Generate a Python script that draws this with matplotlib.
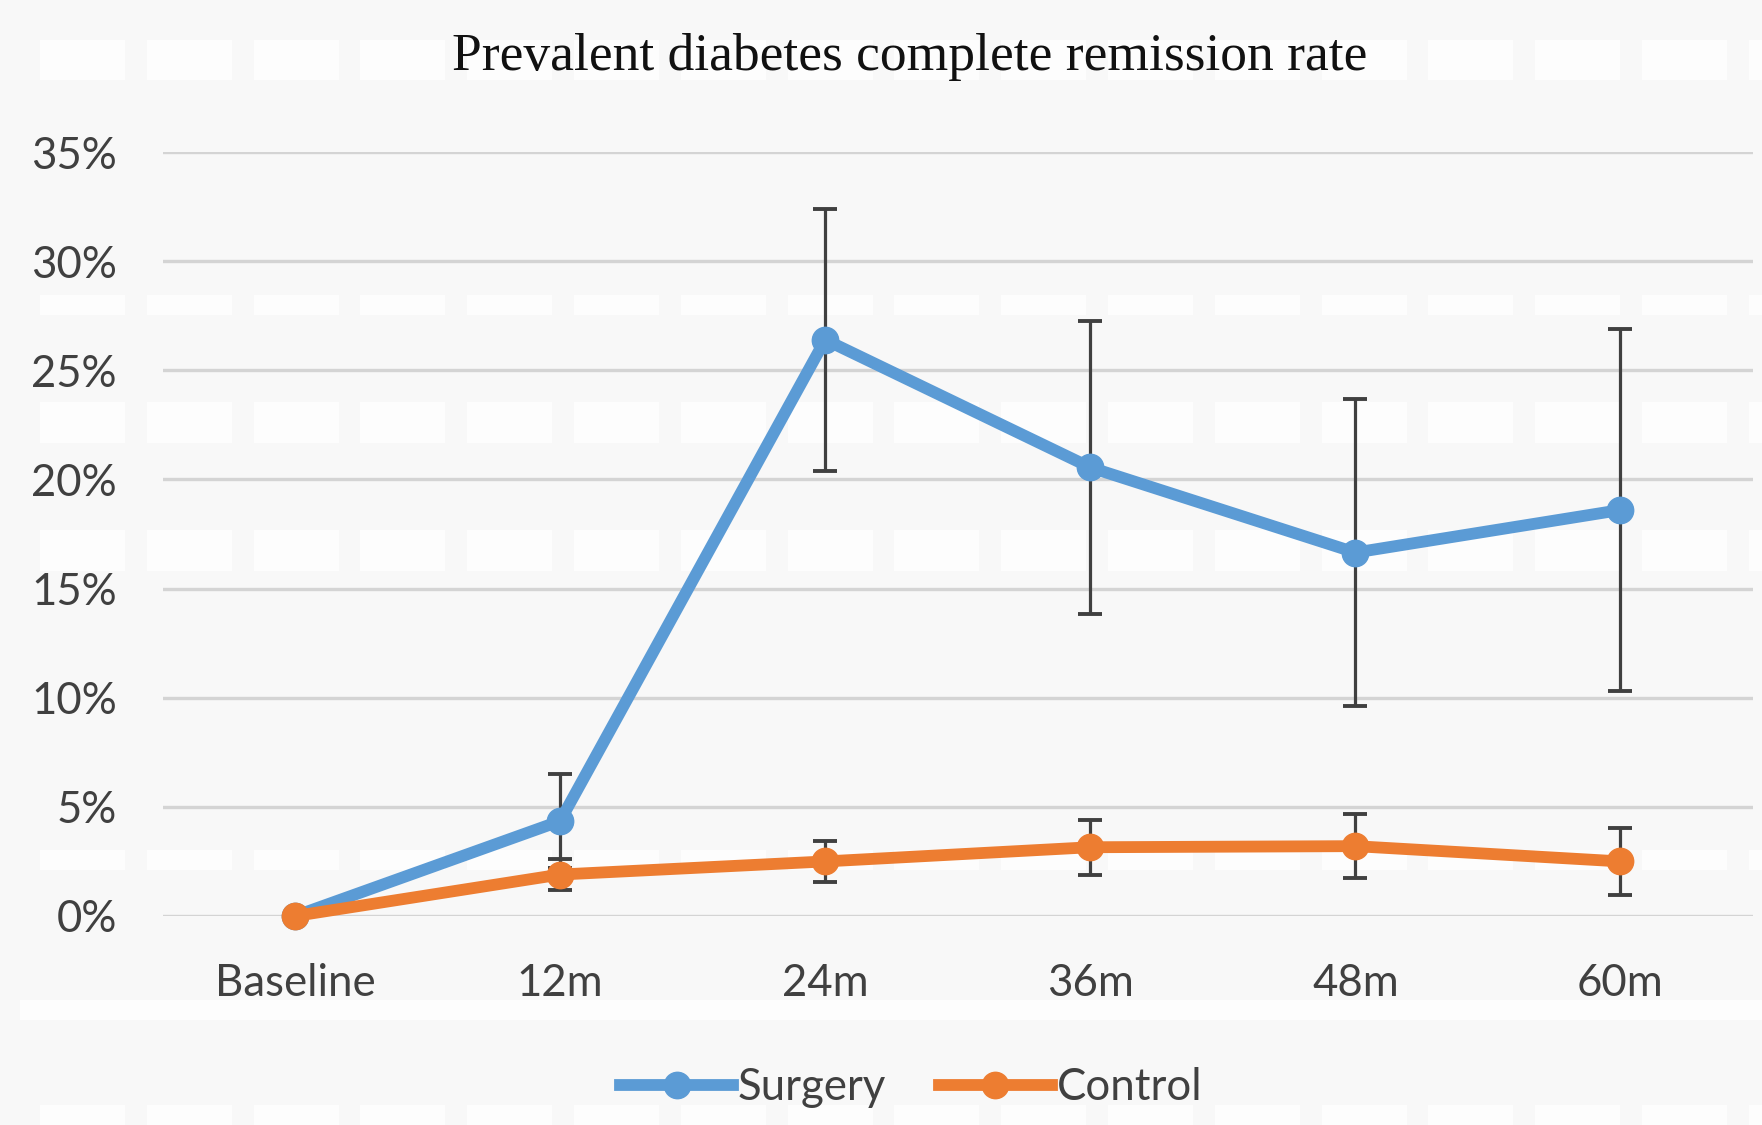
import numpy as np
import matplotlib
matplotlib.use("Agg")
import matplotlib.pyplot as plt
from matplotlib.patches import Rectangle
from matplotlib.ticker import FuncFormatter

# --- Data (remission rate, %) ---
timepoints = ["Baseline", "12m", "24m", "36m", "48m", "60m"]
surgery = [0, 4.35, 26.4, 20.55, 16.65, 18.6]
surgery_err = [0, 2.15, 6.0, 6.7, 7.05, 8.3]
control = [0, 1.9, 2.5, 3.15, 3.2, 2.5]
control_err = [0, 0.72, 0.95, 1.27, 1.45, 1.55]

blue = "#5B9BD5"
orange = "#ED7D31"
text_col = "#404040"

W, H = 1762, 1125
fig = plt.figure(figsize=(W / 100, H / 100), dpi=100, facecolor="#f8f8f8")

# faint block texture of the chart background (pixel rows from the top)
block_rows = [(40, 80), (295, 315), (402, 443), (530, 571), (850, 870), (1105, 1125)]
for y0, y1 in block_rows:
    for x0 in np.arange(40, W, 106.8):
        fig.patches.append(Rectangle((x0 / W, 1 - y1 / H), 85 / W, (y1 - y0) / H,
                                     transform=fig.transFigure, facecolor="#fdfdfd",
                                     edgecolor="none", zorder=0))
fig.patches.append(Rectangle((20 / W, 1 - 1020 / H), 1 - 20 / W, 20 / H,
                             transform=fig.transFigure, facecolor="#fdfdfd",
                             edgecolor="none", zorder=0))

ax = fig.add_axes([162.5 / W, (H - 916) / H, (1753 - 162.5) / W, (916 - 152) / H])
ax.set_facecolor("none")
ax.set_zorder(2)

x = np.arange(len(timepoints))

# error bars first so the markers sit on top
ax.errorbar(x[1:], surgery[1:], yerr=surgery_err[1:], fmt="none", ecolor=text_col,
            elinewidth=2.3, capsize=8.5, capthick=2.8, zorder=2)
ax.plot(x, surgery, color=blue, lw=8.5, marker="o", ms=19, label="Surgery",
        zorder=3, clip_on=False)
ax.errorbar(x[1:], control[1:], yerr=control_err[1:], fmt="none", ecolor=text_col,
            elinewidth=2.3, capsize=8.5, capthick=2.8, zorder=4)
ax.plot(x, control, color=orange, lw=8.5, marker="o", ms=19, label="Control",
        zorder=5, clip_on=False)

ax.set_xlim(-0.5, len(timepoints) - 0.5)
ax.set_ylim(0, 35)
ax.set_yticks(range(0, 36, 5))
ax.yaxis.set_major_formatter(FuncFormatter(lambda v, _: f"{v:.0f}%"))
ax.set_xticks(x, timepoints)
ax.grid(axis="y", color="#d4d4d4", lw=2.4)
ax.set_axisbelow(True)
for s in ax.spines.values():
    s.set_visible(False)

ax.tick_params(axis="both", length=0, labelcolor=text_col)
ax.tick_params(axis="y", pad=33)
ax.tick_params(axis="x", pad=34)
for lbl in ax.get_xticklabels() + ax.get_yticklabels():
    lbl.set_fontfamily("Lato")
    lbl.set_fontsize(31.5)

fig.text(909.5 / W, 1 - 70 / H, "Prevalent diabetes complete remission rate",
         ha="center", va="baseline", family="Liberation Serif", size=38.5, color="#111111")

fig.legend(loc="center", bbox_to_anchor=(0.517, 1 - 1088 / H), ncol=2, frameon=False,
           handlelength=2.6, handletextpad=0.1, columnspacing=1.2,
           prop=dict(family="Lato", size=31.5), labelcolor=text_col)

fig.savefig("out.png", dpi=100, facecolor=fig.get_facecolor())
